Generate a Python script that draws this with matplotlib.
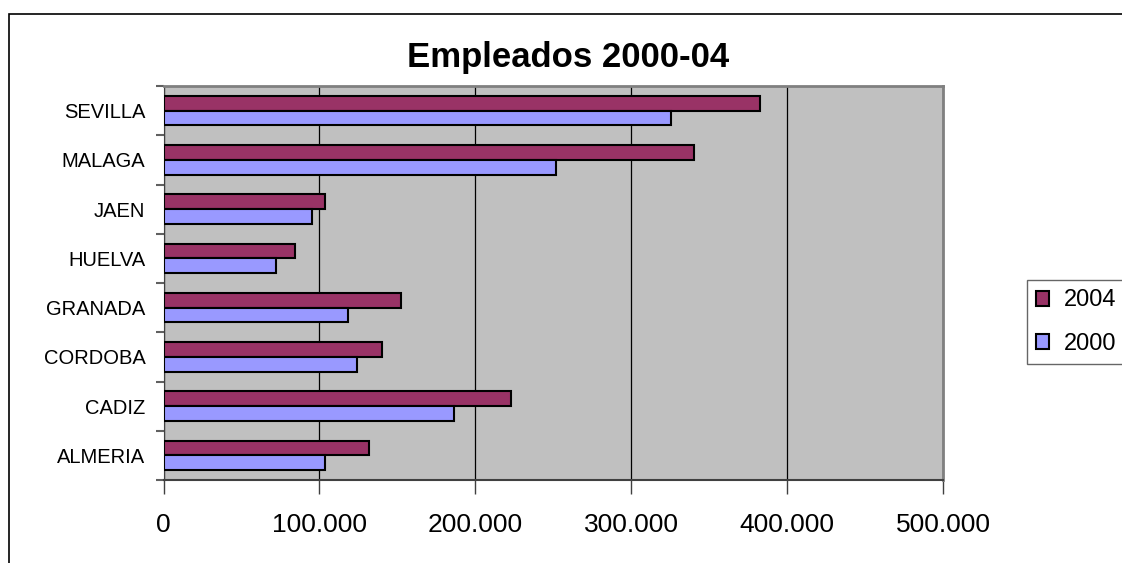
import matplotlib
matplotlib.use('Agg')
from matplotlib import pyplot as plt
from matplotlib.patches import Rectangle
from matplotlib.ticker import FuncFormatter
import numpy as np

provincias = ['ALMERIA', 'CADIZ', 'CORDOBA', 'GRANADA', 'HUELVA', 'JAEN', 'MALAGA', 'SEVILLA']
empleados_2004 = [132100, 223200, 140100, 152400, 84400, 103500, 340300, 382500]
empleados_2000 = [103500, 186600, 123900, 118400, 72200, 95300, 251900, 325400]
xticks = [0, 100000, 200000, 300000, 400000, 500000]

plt.rcParams['font.family'] = ['Liberation Sans', 'DejaVu Sans']

W, H = 1122, 563
fig = plt.figure(figsize=(W / 100, H / 100), dpi=100)
fig.patch.set_facecolor('white')

# marco exterior del grafico (cortado a la derecha y abajo)
fig.patches.append(Rectangle((8.5 / W, -0.1), 1.2, (H - 14) / H + 0.1,
                             transform=fig.transFigure, fill=False,
                             edgecolor='black', linewidth=1.2))

ax = fig.add_axes([163.5 / W, (H - 480) / H, (943 - 163.5) / W, (480 - 86) / H])
ax.set_facecolor('#C0C0C0')

y = np.arange(len(provincias))
h = 0.3
ax.barh(y + h / 2, empleados_2004, height=h, color='#993366', edgecolor='black',
        linewidth=1.5, label='2004', zorder=3)
ax.barh(y - h / 2, empleados_2000, height=h, color='#9999FF', edgecolor='black',
        linewidth=1.5, label='2000', zorder=3)

ax.set_xlim(0, 500000)
ax.set_ylim(-0.5, len(provincias) - 0.5)
ax.set_xticks(xticks)
ax.xaxis.set_major_formatter(FuncFormatter(lambda v, p: f'{int(v):,}'.replace(',', '.')))
ax.tick_params(axis='x', length=10, width=1, color='#404040', pad=14, labelsize=19)
ax.grid(axis='x', color='black', linewidth=0.9, zorder=1)

# ticks en los limites de categoria, etiquetas en el centro
ax.set_yticks(np.arange(len(provincias) + 1) - 0.5)
ax.set_yticklabels([])
ax.set_yticks(y, minor=True)
ax.set_yticklabels(provincias, minor=True)
ax.tick_params(axis='y', which='major', length=6, width=1.5, color='#606060')
ax.tick_params(axis='y', which='minor', length=0, pad=13, labelsize=14.5)

for s in ['top', 'right']:
    ax.spines[s].set_color('#808080')
    ax.spines[s].set_linewidth(2)
ax.spines['left'].set_color('#404040')
ax.spines['bottom'].set_color('#404040')
ax.spines['bottom'].set_linewidth(1.5)

fig.text((403 + 733) / 2 / W, 1 - 57 / H, 'Empleados 2000-04', ha='center', va='center',
         fontsize=25, fontweight='bold')

leg = fig.legend(loc='upper left', bbox_to_anchor=(1027 / W, 1 - 280 / H),
                 borderaxespad=0, fontsize=17, frameon=True, fancybox=False,
                 handlelength=0.55, handleheight=0.6, handletextpad=0.6,
                 borderpad=0.4, labelspacing=0.9)
leg.get_frame().set_edgecolor('#404040')
leg.get_frame().set_linewidth(1)

fig.savefig('out.png', dpi=100)
